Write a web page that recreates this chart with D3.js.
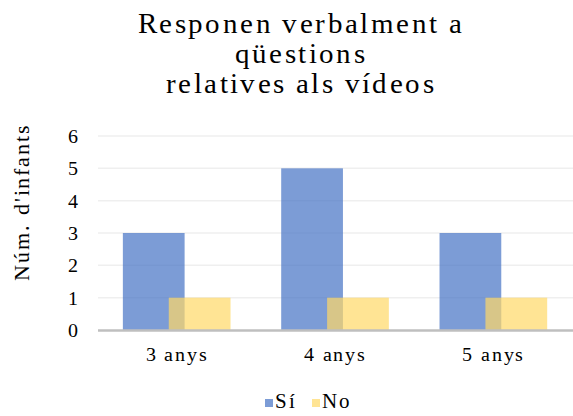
<!DOCTYPE html>
<html>
<head>
<meta charset="utf-8">
<script src="https://cdn.jsdelivr.net/npm/d3@7"></script>
<style>
  @font-face { font-family: "ChartSerif"; src: local("Liberation Serif"), local("LiberationSerif"), local("Times New Roman"); }
  svg text { font-family: "ChartSerif", "Liberation Serif", "Times New Roman", serif !important; }
</style>
</head>
<body style="margin:0">
<svg id="chart" width="573" height="416"></svg>
<script>
// chart data
var categories = ["3 anys", "4 anys", "5 anys"];
var seriesNames = ["Sí", "No"];
var siValues = [3, 5, 3];
var noValues = [1, 1, 1];
var yTicks = [0, 1, 2, 3, 4, 5, 6];
var titleLines = ["Responen verbalment a", "qüestions", "relatives als vídeos"];

var colors = { "Sí": "#4472C4", "No": "#FFD966" };
var serif = "Times New Roman";

var svg = d3.select("#chart");
var margin = { top: 136, right: 0, bottom: 86, left: 98 };
var width = 573 - margin.left - margin.right;
var height = 416 - margin.top - margin.bottom;

var x = d3.scaleBand().domain(categories).range([0, width]);
var y = d3.scaleLinear().domain([0, 6]).range([height, 0]);

var g = svg.append("g")
  .attr("transform", "translate(" + margin.left + "," + margin.top + ")");

// gridlines
g.selectAll(".grid")
  .data(yTicks.filter(function (d) { return d > 0; }))
  .enter()
  .append("line")
  .attr("class", "grid")
  .attr("x1", 0)
  .attr("x2", width)
  .attr("y1", function (d) { return y(d); })
  .attr("y2", function (d) { return y(d); })
  .attr("stroke", "#EFEFEF")
  .attr("stroke-width", 1.5);

// bars: the second series overlaps the first
var bw = x.bandwidth();
var barW = bw * 0.39;
var offsets = { "Sí": bw * 0.157, "No": bw * 0.447 };

var rows = [];
categories.forEach(function (c, i) {
  rows.push({ cat: c, series: "Sí", value: siValues[i] });
  rows.push({ cat: c, series: "No", value: noValues[i] });
});

g.selectAll(".bar")
  .data(rows)
  .enter()
  .append("rect")
  .attr("class", "bar")
  .attr("x", function (d) { return x(d.cat) + offsets[d.series]; })
  .attr("y", function (d) { return y(d.value); })
  .attr("width", barW)
  .attr("height", function (d) { return height - y(d.value); })
  .attr("fill", function (d) { return colors[d.series]; })
  .attr("fill-opacity", 0.7);

// x axis
g.append("line")
  .attr("x1", 0)
  .attr("x2", width)
  .attr("y1", height + 0.5)
  .attr("y2", height + 0.5)
  .attr("stroke", "#BFBFBF")
  .attr("stroke-width", 2.5);

var xAxis = g.append("g")
  .attr("transform", "translate(0," + height + ")")
  .call(d3.axisBottom(x).tickSize(0).tickPadding(17));
xAxis.select(".domain").remove();
xAxis.attr("font-family", serif).attr("font-size", 20);
xAxis.selectAll("text")
  .attr("font-family", serif)
  .attr("font-size", 20)
  .attr("letter-spacing", 1.8)
  .attr("fill", "#000");

// y axis
var yAxis = g.append("g")
  .call(d3.axisLeft(y).tickValues(yTicks).tickSize(0).tickPadding(20).tickFormat(d3.format("d")));
yAxis.select(".domain").remove();
yAxis.attr("font-family", serif).attr("font-size", 20);
yAxis.selectAll("text")
  .attr("font-family", serif)
  .attr("font-size", 20)
  .attr("fill", "#000");

svg.append("text")
  .attr("transform", "translate(29,202) rotate(-90)")
  .attr("text-anchor", "middle")
  .attr("font-family", serif)
  .attr("font-size", 22)
  .attr("letter-spacing", 1.9)
  .text("Núm. d'infants");

// title
svg.append("g")
  .selectAll("text")
  .data(titleLines)
  .enter()
  .append("text")
  .attr("x", 301)
  .attr("y", function (d, i) { return 33 + i * 30; })
  .attr("text-anchor", "middle")
  .attr("font-family", serif)
  .attr("font-size", 29)
  .attr("letter-spacing", 2.4)
  .text(function (d) { return d; });

// legend
var legend = svg.append("g").attr("transform", "translate(265,408)");
var items = legend.selectAll("g")
  .data(seriesNames)
  .enter()
  .append("g")
  .attr("transform", function (d, i) { return "translate(" + (i * 47) + ",0)"; });
items.append("rect")
  .attr("x", 0)
  .attr("y", -9)
  .attr("width", 8)
  .attr("height", 8)
  .attr("fill", function (d) { return colors[d]; })
  .attr("fill-opacity", 0.7);
items.append("text")
  .attr("x", 10)
  .attr("y", 0)
  .attr("font-family", serif)
  .attr("font-size", 21)
  .attr("letter-spacing", 1.5)
  .text(function (d) { return d; });
</script>
</body>
</html>
